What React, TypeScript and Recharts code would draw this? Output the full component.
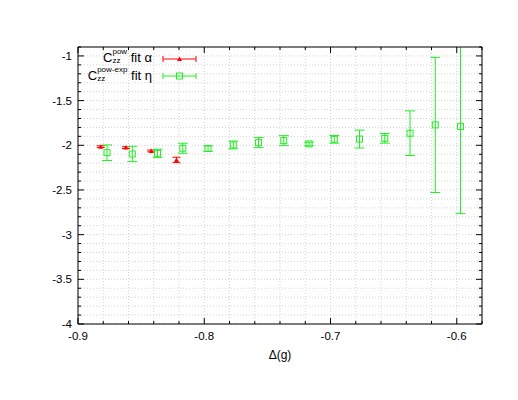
import { ScatterChart, Scatter, XAxis, YAxis, CartesianGrid, ErrorBar } from 'recharts';

// C_zz^pow fit alpha
const redX = [-0.882, -0.862, -0.842, -0.822];
const redY = [-2.015, -2.026, -2.063, -2.164];
const redErr = [0.01, 0.01, 0.01, 0.03];

// C_zz^pow-exp fit eta
const greenX = [-0.877, -0.857, -0.837, -0.817, -0.797, -0.777, -0.757, -0.737, -0.717, -0.697, -0.677, -0.657, -0.637, -0.617, -0.597];
const greenY = [-2.083, -2.097, -2.09, -2.033, -2.037, -1.996, -1.97, -1.948, -1.985, -1.933, -1.93, -1.922, -1.865, -1.772, -1.791];
const greenErr = [0.087, 0.086, 0.045, 0.056, 0.03, 0.043, 0.056, 0.056, 0.02, 0.043, 0.1, 0.054, 0.25, 0.756, 0.974];

const xTicks = [-0.9, -0.88, -0.86, -0.84, -0.82, -0.8, -0.78, -0.76, -0.74, -0.72, -0.7, -0.68, -0.66, -0.64, -0.62, -0.6, -0.58];
const xMajor = [-0.9, -0.8, -0.7, -0.6];
const yTicks = [
  -4, -3.9, -3.8, -3.7, -3.6, -3.5, -3.4, -3.3, -3.2, -3.1, -3, -2.9, -2.8, -2.7, -2.6, -2.5,
  -2.4, -2.3, -2.2, -2.1, -2, -1.9, -1.8, -1.7, -1.6, -1.5, -1.4, -1.3, -1.2, -1.1, -1, -0.9,
];
const yMajor = [-4, -3.5, -3, -2.5, -2, -1.5, -1];

const redData = redX.map((x, i) => ({ x, y: redY[i], err: redErr[i] }));
const greenData = greenX.map((x, i) => ({ x, y: greenY[i], err: greenErr[i] }));

const FONT = '"Liberation Sans", Arial, Helvetica, sans-serif';
const RED = '#ff0000';
const GREEN = '#22ee22';

// plot box inside the chart svg (used to clip the long error bar)
const W = 510;
const H = 392;
const M = { top: 33, right: 30, bottom: 46, left: 30 };
const AX = { left: 40, right: 6, top: 6, bottom: 30 };

type TickProps = { x?: number; y?: number; payload?: { value: number } };

const txt = { fontFamily: FONT, fontSize: 11.5, fill: '#000' };

// gnuplot style ticks: pointing inward, long for major, short for minor
function BottomTick({ x = 0, y = 0, payload }: TickProps) {
  const v = payload?.value ?? 0;
  const major = xMajor.includes(v);
  return (
    <g>
      <line x1={x} x2={x} y1={y} y2={y - (major ? 6 : 3)} stroke="#000" />
      {major && <text x={x} y={y + 16} textAnchor="middle" {...txt}>{String(v)}</text>}
    </g>
  );
}

function TopTick({ x = 0, y = 0, payload }: TickProps) {
  const major = xMajor.includes(payload?.value ?? 0);
  return <line x1={x} x2={x} y1={y} y2={y + (major ? 6 : 3)} stroke="#000" />;
}

function LeftTick({ x = 0, y = 0, payload }: TickProps) {
  const v = payload?.value ?? 0;
  const major = yMajor.includes(v);
  return (
    <g>
      <line x1={x} x2={x + (major ? 6 : 3)} y1={y} y2={y} stroke="#000" />
      {major && <text x={x - 6} y={y + 4} textAnchor="end" {...txt}>{String(v)}</text>}
    </g>
  );
}

function RightTick({ x = 0, y = 0, payload }: TickProps) {
  const major = yMajor.includes(payload?.value ?? 0);
  return <line x1={x} x2={x - (major ? 6 : 3)} y1={y} y2={y} stroke="#000" />;
}

const Triangle = (p: any) => (
  <path d={`M${p.cx - 2.5},${p.cy + 2} L${p.cx + 2.5},${p.cy + 2} L${p.cx},${p.cy - 2.5} Z`} fill={RED} />
);

const Square = (p: any) => (
  <rect x={p.cx - 3} y={p.cy - 3} width={6} height={6} fill="none" stroke={GREEN} />
);

// stacked super/subscript like gnuplot's C_{zz}^{pow}
function Scripts({ sup, sub }: { sup: string; sub: string }) {
  return (
    <span
      style={{
        display: 'inline-block',
        fontSize: 8,
        lineHeight: '9px',
        verticalAlign: 'middle',
        position: 'relative',
        top: -3,
        textAlign: 'left',
      }}
    >
      <span style={{ display: 'block', height: 9 }}>{sup}</span>
      <span style={{ display: 'block', height: 9 }}>{sub}</span>
    </span>
  );
}

function Sample({ color, marker }: { color: string; marker: 'tri' | 'sq' }) {
  return (
    <svg width={36} height={12} style={{ display: 'block' }}>
      <line x1={1} x2={34} y1={6} y2={6} stroke={color} />
      <line x1={1} x2={1} y1={3} y2={9} stroke={color} />
      <line x1={34} x2={34} y1={3} y2={9} stroke={color} />
      {marker === 'tri' ? (
        <path d="M15,8 L20,8 L17.5,3.5 Z" fill={color} />
      ) : (
        <rect x={14.5} y={3} width={6} height={6} fill="none" stroke={color} />
      )}
    </svg>
  );
}

const rowStyle = {
  position: 'absolute' as const,
  left: 0,
  width: 144,
  height: 20,
  textAlign: 'right' as const,
  fontSize: 13,
  lineHeight: '20px',
  whiteSpace: 'nowrap' as const,
};

export default function App() {
  const px = M.left + AX.left;
  const py = M.top + AX.top;
  const pw = W - px - M.right - AX.right;
  const ph = H - py - M.bottom - AX.bottom;
  return (
    <div style={{ position: 'relative', width: W, height: H, fontFamily: FONT }}>
      <svg width={0} height={0} style={{ position: 'absolute' }}>
        <defs>
          <clipPath id="plotClip">
            <rect x={px} y={py} width={pw} height={ph} />
          </clipPath>
        </defs>
      </svg>
      <style>{'.recharts-errorBars, .recharts-errorBar { clip-path: url(#plotClip); }'}</style>
      <ScatterChart width={W} height={H} margin={M}>
        <CartesianGrid xAxisId="b" yAxisId="l" stroke="#d4d4d4" strokeDasharray="1 2" />
        <XAxis
          xAxisId="b"
          type="number"
          dataKey="x"
          domain={[-0.9, -0.58]}
          ticks={xTicks}
          interval={0}
          allowDataOverflow
          height={AX.bottom}
          tickSize={0}
          tickMargin={0}
          tickLine={false}
          axisLine={{ stroke: '#000' }}
          tick={<BottomTick />}
          label={{ value: 'Δ(g)', position: 'bottom', offset: -4, style: { fontFamily: FONT, fontSize: 12, fill: '#000' } }}
        />
        <XAxis
          xAxisId="t"
          orientation="top"
          type="number"
          dataKey="x"
          domain={[-0.9, -0.58]}
          ticks={xTicks}
          interval={0}
          allowDataOverflow
          height={AX.top}
          tickSize={0}
          tickMargin={0}
          tickLine={false}
          axisLine={{ stroke: '#000' }}
          tick={<TopTick />}
        />
        <YAxis
          yAxisId="l"
          type="number"
          dataKey="y"
          domain={[-4, -0.9]}
          ticks={yTicks}
          interval={0}
          allowDataOverflow
          width={AX.left}
          tickSize={0}
          tickMargin={0}
          tickLine={false}
          axisLine={{ stroke: '#000' }}
          tick={<LeftTick />}
        />
        <YAxis
          yAxisId="r"
          orientation="right"
          type="number"
          dataKey="y"
          domain={[-4, -0.9]}
          ticks={yTicks}
          interval={0}
          allowDataOverflow
          width={AX.right}
          tickSize={0}
          tickMargin={0}
          tickLine={false}
          axisLine={{ stroke: '#000' }}
          tick={<RightTick />}
        />
        <Scatter data={redData} xAxisId="b" yAxisId="l" shape={<Triangle />} isAnimationActive={false}>
          <ErrorBar dataKey="err" direction="y" width={4} stroke={RED} strokeWidth={1} isAnimationActive={false} />
        </Scatter>
        <Scatter data={greenData} xAxisId="b" yAxisId="l" shape={<Square />} isAnimationActive={false}>
          <ErrorBar dataKey="err" direction="y" width={5} stroke={GREEN} strokeWidth={1} isAnimationActive={false} />
        </Scatter>
      </ScatterChart>

      <div style={{ ...rowStyle, top: 40 }}>
        C<Scripts sup="pow" sub="zz" /> fit α
      </div>
      <div style={{ position: 'absolute', left: 154, top: 45 }}>
        <Sample color={RED} marker="tri" />
      </div>
      <div style={{ ...rowStyle, top: 58 }}>
        C<Scripts sup="pow-exp" sub="zz" /> fit η
      </div>
      <div style={{ position: 'absolute', left: 154, top: 62 }}>
        <Sample color={GREEN} marker="sq" />
      </div>
    </div>
  );
}
